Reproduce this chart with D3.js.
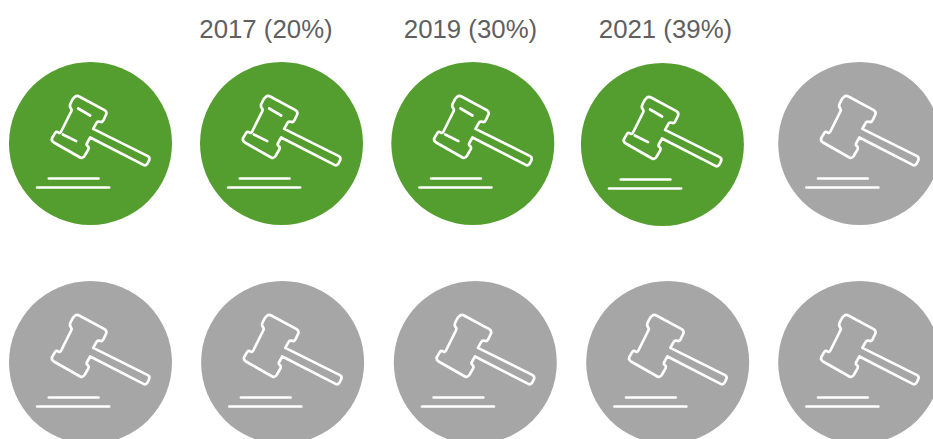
<!DOCTYPE html>
<html><head><meta charset="utf-8">
<script src="https://cdn.jsdelivr.net/npm/d3@7"></script>
<style>html,body{margin:0;background:#fff;overflow:hidden}svg{display:block}</style></head>
<body><svg id="c" width="933" height="439"></svg>
<script>
const slots = [0,1,2,3,4,5,6,7,8,9];
const filled = [1,1,1,1,0,0,0,0,0,0];
const labels = ["","2017 (20%)","2019 (30%)","2021 (39%)","","","","","",""];

const xScale = d3.scaleOrdinal().domain(slots).range([90.5,281.5,472.8,662.4,859.7,90.5,282.6,475.3,667.7,859.7]);
const yScale = d3.scaleOrdinal().domain(slots).range([143.5,143.5,143.5,144.5,143.5,362.5,362.5,362.5,362.5,362.5]);
const labelX = d3.scaleOrdinal().domain(slots).range([0,266,470.5,665.5,0,0,0,0,0,0]);
const fillScale = d3.scaleOrdinal().domain([0,1]).range(["#a6a6a6","#549e2f"]);

// gavel icon in a 3x local space centred on the disc
const outline = "M-56,-128 Q-53,-136 -47,-140 Q-41,-145 -34,-141 L42,-100 Q50,-95 47,-87 L39,-70 Q35,-62 28,-65 Q21,-68 18,-62 L8,-44 L172,38 Q179,42 176,50 L171,60 Q166,68 159,64 L-1,-18 L-11,0 Q-13,5 -8,8 Q-4,11 -6,17 L-17,36 Q-22,46 -31,42 L-110,-3 Q-119,-9 -115,-17 L-106,-32 Q-102,-37 -96,-33 Q-91,-30 -88,-36 L-58,-96 Q-55,-101 -59,-106 Q-64,-112 -60,-120 Z";
const inner = [[-37,-105,-1,-84],[-83,-27,-43,-7]];
const base = [[-125,105,24,105],[-160,132,56,132]];

const svg = d3.select("#c");
const g = svg.selectAll("g.t").data(slots).join("g").attr("class","t")
  .attr("transform", d=>`translate(${xScale(d)},${yScale(d)})`);
g.append("circle").attr("r",81.5).attr("fill",d=>fillScale(filled[d]));
const ic = g.append("g").attr("transform","scale(0.3333)")
  .attr("fill","none").attr("stroke","#fff").attr("stroke-width",8)
  .attr("stroke-linecap","round").attr("stroke-linejoin","round");
ic.append("path").attr("d",outline);
ic.selectAll("line").data(d=>(filled[d]?inner:[]).concat(base)).join("line")
  .attr("x1",d=>d[0]).attr("y1",d=>d[1]).attr("x2",d=>d[2]).attr("y2",d=>d[3]);

svg.selectAll("text").data(slots.filter(d=>labels[d])).join("text")
  .attr("x",d=>labelX(d)).attr("y",38).attr("text-anchor","middle")
  .attr("font-family","'Liberation Sans',Arial,sans-serif").attr("font-size",25.8)
  .attr("fill","#5f5f5f").text(d=>labels[d]);
</script></body></html>
